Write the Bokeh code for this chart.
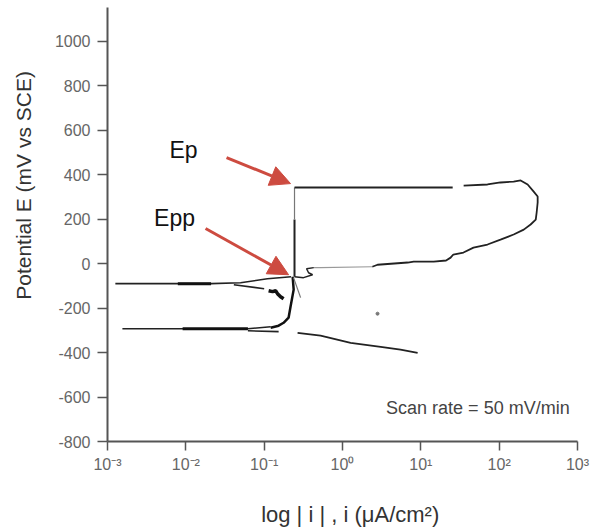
import math
from bokeh.plotting import figure
from bokeh.models import Range1d, FixedTicker, Label, Arrow, NormalHead, CustomJSTickFormatter
from bokeh.embed import file_html
from bokeh.resources import INLINE

# ---- data (current density i in uA/cm2, potential E in mV vs SCE) ----
x_ticks = [1e-3, 1e-2, 1e-1, 1e0, 1e1, 1e2, 1e3]
x_tick_labels = ["10⁻³", "10⁻²", "10⁻¹", "10⁰", "10¹", "10²", "10³"]
y_ticks = [-800, -600, -400, -200, 0, 200, 400, 600, 800, 1000]
y_tick_labels = ["-800", "-600", "-400", "-200", "0", "200", "400", "600", "800", "1000"]

cath_upper_i = [0.00126, 0.0079, 0.021, 0.050, 0.11, 0.22]
cath_upper_E = [-90, -90, -90, -86, -68, -59]
cath_upper_thick_i = [0.0079, 0.021]
cath_upper_thick_E = [-90, -90]
cath_branch_i = [0.041, 0.10]
cath_branch_E = [-95, -113]
squiggle_i = [0.114, 0.128, 0.140, 0.148, 0.162, 0.177]
squiggle_E = [-122, -126, -122, -135, -149, -158]
active_i = [0.231, 0.238, 0.217, 0.205, 0.177, 0.153, 0.121]
active_E = [-59, -117, -194, -243, -266, -279, -288]
cross_i = [0.237, 0.292]
cross_E = [-63, -153]
cath_lower_i = [0.00155, 0.0091, 0.062, 0.121]
cath_lower_E = [-293, -293, -293, -284]
cath_lower_thick_i = [0.0091, 0.062]
cath_lower_thick_E = [-293, -293]
cath_lower_branch_i = [0.062, 0.153]
cath_lower_branch_E = [-302, -306]
desc_i = [0.267, 0.525, 1.27, 3.07, 5.5, 9.1]
desc_E = [-311, -324, -356, -374, -387, -401]
dot_i = [2.8]
dot_E = [-225]
pass_low_i = [0.244, 0.244]
pass_low_E = [-59, 198]
pass_up_i = [0.244, 0.244]
pass_up_E = [198, 342]
top_i = [0.244, 25.5]
top_E = [342, 342]
loop_i = [35.2, 71, 104, 153, 188, 231, 276, 310, 310, 301, 293, 252, 206, 153,
          104, 71, 47, 35, 26, 24, 21, 14.6, 8.1, 6.8, 2.8, 2.4]
loop_E = [351, 356, 365, 369, 374, 356, 324, 302, 275, 230, 198, 176, 153, 131,
          108, 86, 72, 50, 41, 27, 14, 9, 9, 5, -5, -14]
return_i = [2.4, 0.525, 0.43]
return_E = [-14, -18, -18]
epp_squiggle_i = [0.43, 0.348, 0.369, 0.415, 0.318, 0.244]
epp_squiggle_E = [-18, -23, -41, -50, -63, -59]

# annotations
ep_arrow = dict(x_start=0.0331, y_start=477, x_end=0.217, y_end=360)
epp_arrow = dict(x_start=0.01786, y_start=158, x_end=0.205, y_end=-50)
ep_text = (0.00935, 509, "Ep")
epp_text = (0.00718, 203, "Epp")
scan_text = (3.6, -648, "Scan rate = 50 mV/min")
y_title = "Potential  E (mV vs SCE)"
x_title = "log | i | , i (μA/cm²)"

FONT = "Liberation Sans"
RED = "#cd4b40"

p = figure(width=590, height=531, x_axis_type="log",
           x_range=Range1d(1e-3, 1e3), y_range=Range1d(-800, 1152),
           output_backend="svg", toolbar_location=None,
           min_border_left=107, min_border_right=13, min_border_top=7, min_border_bottom=90)
p.outline_line_color = None
p.grid.visible = False

for ax in (p.xaxis[0], p.yaxis[0]):
    ax.axis_line_color = "#555555"
    ax.axis_line_width = 2
    ax.major_tick_line_color = "#555555"
    ax.major_tick_line_width = 1.5
    ax.minor_tick_line_color = None
    ax.major_tick_in = 0
    ax.major_label_text_font = FONT
    ax.major_label_text_font_size = "16px"
    ax.major_label_text_color = "#666666"
    ax.axis_label_text_font = FONT
    ax.axis_label_text_font_style = "normal"
    ax.axis_label_text_color = "#333333"

p.xaxis.ticker = FixedTicker(ticks=x_ticks)
p.xaxis.major_tick_out = 9
p.xaxis.major_label_standoff = 5
p.xaxis.formatter = CustomJSTickFormatter(args=dict(vals=x_ticks, labs=x_tick_labels), code="""
let best = 0, bd = Infinity;
for (let k = 0; k < vals.length; k++) {
  const d = Math.abs(Math.log10(vals[k]) - Math.log10(tick));
  if (d < bd) { bd = d; best = k; }
}
return labs[best];
""")
# small leading space nudges the centred title slightly right as in the reference
p.xaxis.axis_label = "\u2002\u2009" + x_title
p.xaxis.axis_label_text_font_size = "22px"
p.xaxis.axis_label_standoff = 26

p.yaxis.ticker = FixedTicker(ticks=y_ticks)
p.yaxis.major_tick_out = 10
p.yaxis.major_label_standoff = 7
p.yaxis.formatter = CustomJSTickFormatter(args=dict(vals=y_ticks, labs=y_tick_labels), code="""
let best = 0, bd = Infinity;
for (let k = 0; k < vals.length; k++) {
  const d = Math.abs(vals[k] - tick);
  if (d < bd) { bd = d; best = k; }
}
return labs[best];
""")
# leading em-spaces shift the centred, rotated title upward as in the reference
p.yaxis.axis_label = "\u2003\u2003\u2003\u2003" + y_title
p.yaxis.axis_label_text_font_size = "21px"
p.yaxis.axis_label_standoff = 17

DARK = "#222222"
GREY = "#777777"
p.line(cath_upper_i, cath_upper_E, line_color=DARK, line_width=1.6)
p.line(cath_upper_thick_i, cath_upper_thick_E, line_color="#111111", line_width=3)
p.line(cath_branch_i, cath_branch_E, line_color=DARK, line_width=1.6)
p.line(squiggle_i, squiggle_E, line_color="#111111", line_width=3.5)
p.line(active_i, active_E, line_color="#111111", line_width=2.5)
p.line(cross_i, cross_E, line_color=GREY, line_width=1.2)
p.line(cath_lower_i, cath_lower_E, line_color=DARK, line_width=1.6)
p.line(cath_lower_thick_i, cath_lower_thick_E, line_color="#111111", line_width=3)
p.line(cath_lower_branch_i, cath_lower_branch_E, line_color=DARK, line_width=1.6)
p.line(desc_i, desc_E, line_color=DARK, line_width=1.8)
p.scatter(dot_i, dot_E, size=3, color=GREY)
p.line(pass_low_i, pass_low_E, line_color=DARK, line_width=2)
p.line(pass_up_i, pass_up_E, line_color=GREY, line_width=1.2)
p.line(top_i, top_E, line_color=DARK, line_width=2)
p.line(loop_i, loop_E, line_color=DARK, line_width=1.8)
p.line(return_i, return_E, line_color="#999999", line_width=1.2)
p.line(epp_squiggle_i, epp_squiggle_E, line_color=DARK, line_width=1.5)

for a in (ep_arrow, epp_arrow):
    p.add_layout(Arrow(end=NormalHead(size=20, fill_color=RED, line_color=RED),
                       line_color=RED, line_width=3, **a))

for (x, y, t) in (ep_text, epp_text):
    p.add_layout(Label(x=x, y=y, text=t, text_font=FONT, text_font_size="23px",
                       text_color="#111111", text_align="center", text_baseline="middle"))

p.add_layout(Label(x=scan_text[0], y=scan_text[1], text=scan_text[2], text_font=FONT,
                   text_font_size="18px", text_color="#444444",
                   text_align="left", text_baseline="middle"))

open("out.html", "w").write(file_html(p, INLINE))
